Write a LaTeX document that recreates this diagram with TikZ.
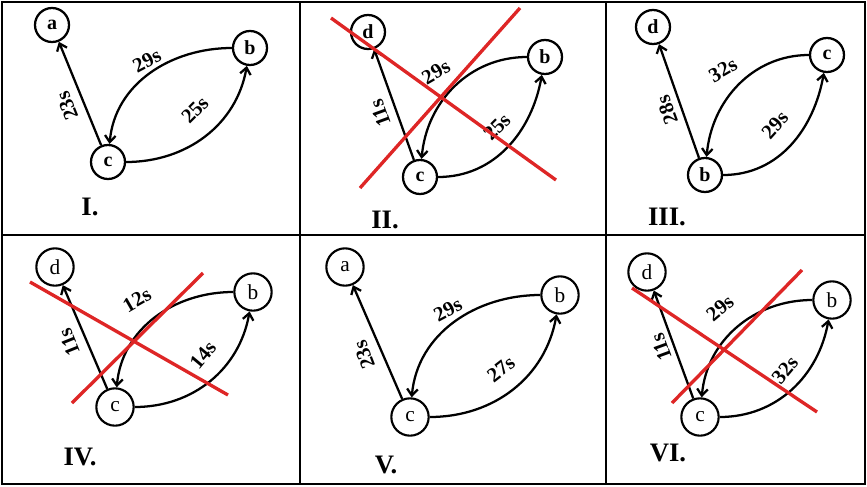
\documentclass[tikz,border=0pt]{standalone}
\usepackage{fontspec}
\setmainfont{Liberation Serif}
\usetikzlibrary{arrows.meta}
\definecolor{crossred}{RGB}{222,38,38}
\tikzset{
  x={(0.75pt,0)}, y={(0,0.75pt)},
  ndtop/.style={draw, circle, line width=1.7pt, minimum size=25.5pt, inner sep=0pt, font=\fontsize{15}{15}\selectfont\bfseries},
  ndbot/.style={draw, circle, line width=1.6pt, minimum size=28pt, inner sep=0pt, font=\fontsize{16}{16}\selectfont},
  arr/.style={line width=1.7pt, -{Straight Barb[length=5pt,width=8pt]}},
  lab/.style={font=\fontsize{15.5}{15.5}\selectfont\bfseries, inner sep=1pt},
  num/.style={font=\fontsize{20}{20}\selectfont\bfseries, anchor=center},
  cross/.style={draw=crossred, line width=2.5pt},
  grid/.style={line width=1.6pt}
}
\begin{document}
\begin{tikzpicture}
\useasboundingbox (0,0) rectangle (867,-486);
% grid
\draw[grid] (2,-2) rectangle (865,-484);
\draw[grid] (300,-2) -- (300,-484);
\draw[grid] (606,-2) -- (606,-484);
\draw[grid] (2,-235) -- (865,-235);

% ---- Cell I ----
\node[ndtop] (Ia) at (52,-25) {a};
\node[ndtop] (Ib) at (250,-48) {b};
\node[ndtop] (Ic) at (108,-162) {c};
\draw[arr] (Ic) -- (Ia);
\draw[arr] (Ib) to[out=180,in=85] (Ic);
\draw[arr] (Ic) to[out=0,in=-100] (Ib);
\node[lab, rotate=112] (Il1) at (67,-106) {23s};
\node[lab, rotate=28] (Il2) at (147,-61) {29s};
\node[lab, rotate=45] (Il3) at (195,-110) {25s};
\node[num] (In) at (90,-207) {I.};

% ---- Cell II ----
\node[ndtop] (IId) at (368,-32) {d};
\node[ndtop] (IIb) at (545,-57) {b};
\node[ndtop] (IIc) at (420,-177) {c};
\draw[arr] (IIc) -- (IId);
\draw[arr] (IIb) to[out=180,in=85] (IIc);
\draw[arr] (IIc) to[out=0,in=-100] (IIb);
\node[lab, rotate=110] (IIl1) at (380,-113) {11s};
\node[lab, rotate=30] (IIl2) at (436,-72) {29s};
\node[lab, rotate=45] (IIl3) at (497,-127) {25s};
\coordinate (IIr1) at (331,-18);
\coordinate (IIr2) at (556,-180);
\coordinate (IIr3) at (360,-188);
\coordinate (IIr4) at (520,-8);
\draw[cross] (IIr1) -- (IIr2);
\draw[cross] (IIr3) -- (IIr4);
\node[num] (IIn) at (385,-220) {II.};

% ---- Cell III ----
\node[ndtop] (IIId) at (653,-27) {d};
\node[ndtop] (IIIc) at (827,-55) {c};
\node[ndtop] (IIIb) at (705,-175) {b};
\draw[arr] (IIIb) -- (IIId);
\draw[arr] (IIIc) to[out=180,in=85] (IIIb);
\draw[arr] (IIIb) to[out=0,in=-100] (IIIc);
\node[lab, rotate=110] (IIIl1) at (667,-110) {28s};
\node[lab, rotate=30] (IIIl2) at (723,-70) {32s};
\node[lab, rotate=48] (IIIl3) at (775,-125) {29s};
\node[num] (IIIn) at (667,-217) {III.};

% ---- Cell IV ----
\node[ndbot] (IVd) at (55,-267) {d};
\node[ndbot] (IVb) at (253,-292) {b};
\node[ndbot] (IVc) at (115,-407) {c};
\draw[arr] (IVc) -- (IVd);
\draw[arr] (IVb) to[out=180,in=85] (IVc);
\draw[arr] (IVc) to[out=0,in=-100] (IVb);
\node[lab, rotate=112] (IVl1) at (69,-342) {11s};
\node[lab, rotate=30] (IVl2) at (137,-300) {12s};
\node[lab, rotate=50] (IVl3) at (203,-355) {14s};
\coordinate (IVr1) at (30,-282);
\coordinate (IVr2) at (228,-395);
\coordinate (IVr3) at (72,-403);
\coordinate (IVr4) at (203,-273);
\draw[cross] (IVr1) -- (IVr2);
\draw[cross] (IVr3) -- (IVr4);
\node[num] (IVn) at (80,-457) {IV.};

% ---- Cell V ----
\node[ndbot] (Va) at (345,-267) {a};
\node[ndbot] (Vb) at (560,-295) {b};
\node[ndbot] (Vc) at (410,-417) {c};
\draw[arr] (Vc) -- (Va);
\draw[arr] (Vb) to[out=180,in=85] (Vc);
\draw[arr] (Vc) to[out=0,in=-100] (Vb);
\node[lab, rotate=111] (Vl1) at (364,-355) {23s};
\node[lab, rotate=28] (Vl2) at (448,-310) {29s};
\node[lab, rotate=38] (Vl3) at (501,-369) {27s};
\node[num] (Vn) at (386,-465) {V.};

% ---- Cell VI ----
\node[ndbot] (VId) at (647,-272) {d};
\node[ndbot] (VIb) at (832,-300) {b};
\node[ndbot] (VIc) at (700,-417) {c};
\draw[arr] (VIc) -- (VId);
\draw[arr] (VIb) to[out=180,in=85] (VIc);
\draw[arr] (VIc) to[out=0,in=-100] (VIb);
\node[lab, rotate=110] (VIl1) at (661,-347) {11s};
\node[lab, rotate=40] (VIl2) at (720,-308) {29s};
\node[lab, rotate=50] (VIl3) at (785,-370) {32s};
\coordinate (VIr1) at (632,-288);
\coordinate (VIr2) at (817,-412);
\coordinate (VIr3) at (672,-403);
\coordinate (VIr4) at (802,-270);
\draw[cross] (VIr1) -- (VIr2);
\draw[cross] (VIr3) -- (VIr4);
\node[num] (VIn) at (668,-453) {VI.};
\end{tikzpicture}
\end{document}
